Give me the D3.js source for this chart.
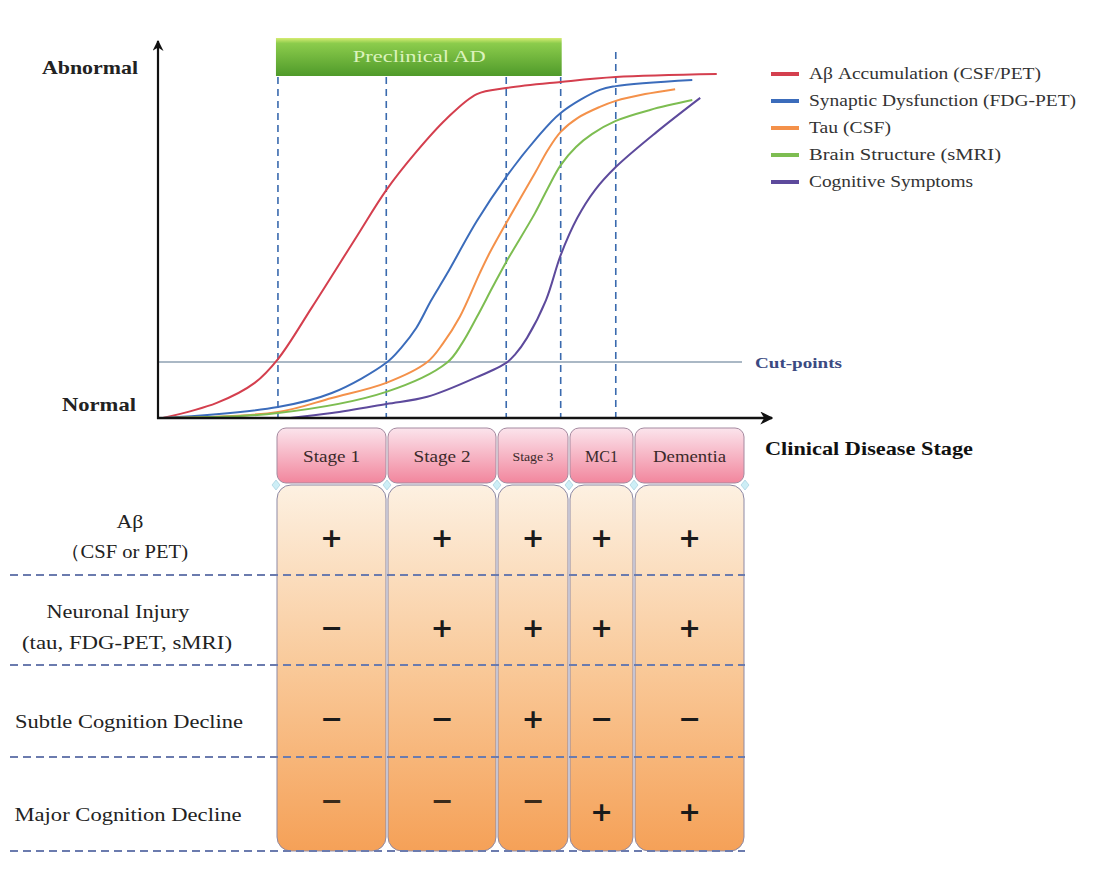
<!DOCTYPE html>
<html><head><meta charset="utf-8">
<script src="https://cdn.jsdelivr.net/npm/d3@7"></script>
<style>body{margin:0;background:#fff}svg{display:block}</style>
</head><body>
<svg id="c" width="1113" height="874"></svg>
<script>
// ---- data ----
const seriesNames = ["Aβ Accumulation (CSF/PET)","Synaptic Dysfunction (FDG-PET)","Tau (CSF)","Brain Structure (sMRI)","Cognitive Symptoms"];
const seriesColors = ["#d43f4e","#3b6cbb","#f4914a","#7dbd51","#5d4a9c"];
const redX = [0.8,9.6,15.8,19.6,25.2,32.5,37.3,42.2,47.1,52.1,56.9,65.8,74.8,91.3];
const redY = [0,4.0,9.3,15.6,29.4,48.1,60.3,70.4,79.1,85.7,87.3,88.9,90.2,91.0];
const blueX = [0.8,19.6,28.4,37.3,39.7,42.2,44.6,47.1,52.1,56.9,61.6,65.8,72.2,74.8,87.3];
const blueY = [0,2.9,6.6,14.6,18.5,23.8,31.0,37.8,52.1,63.8,73.5,80.7,86.8,87.8,89.4];
const orangeX = [0.8,19.6,28.4,37.3,44.0,46.6,49.3,52.6,54.2,56.9,61.6,63.7,65.8,68.6,72.2,74.8,79.6,84.5];
const orangeY = [0,1.6,5.3,9.3,14.8,19.8,26.7,38.4,43.7,51.6,64.8,70.9,75.7,79.4,82.3,83.9,85.7,87.0];
const greenX = [0.8,19.6,37.3,47.2,49.7,52.1,54.7,56.9,61.6,63.7,65.8,68.3,70.9,74.8,80.4,87.3];
const greenY = [0,1.3,6.9,14.6,19.8,26.7,34.7,41.3,54.2,60.8,66.9,71.7,75.1,78.6,81.5,84.1];
const purpleX = [21.6,28.4,37.3,44.0,52.1,56.9,58.3,60.3,63.4,65.8,68.5,71.4,74.8,81.5,88.6];
const purpleY = [0,1.3,3.7,5.6,10.8,14.6,16.7,21.2,31.2,43.1,52.9,60.3,66.4,75.7,84.7];
const stageLines = [19.6,37.3,56.9,65.8,74.8];
const cutPoint = 14.8;
const preclinical = ["Preclinical AD", 19.6, 65.8];
const stages = ["Stage 1","Stage 2","Stage 3","MC1","Dementia"];
const rowLabels = [["Aβ","（CSF or PET)"],["Neuronal Injury","(tau, FDG-PET, sMRI)"],["Subtle Cognition Decline"],["Major Cognition Decline"]];
const signs = [["+","+","+","+","+"],["−","+","+","+","+"],["−","−","+","−","−"],["−","−","−","+","+"]];

// ---- drawing ----
const svg = d3.select("#c");
const x = d3.scaleLinear().domain([0,100]).range([158,770]);
const y = d3.scaleLinear().domain([0,100]).range([418,40]);
const serif = "'Liberation Serif','Times New Roman',serif";
function txt(t, px, py, o){
  const e = svg.append("text").attr("x",px).attr("y",py).attr("font-family",o.family||serif)
    .attr("font-size",o.size||16).attr("fill",o.fill||"#222").attr("text-anchor",o.anchor||"start").text(t);
  if(o.bold) e.attr("font-weight","bold");
  if(o.w) e.attr("textLength",o.w).attr("lengthAdjust","spacingAndGlyphs");
  return e;
}
const defs = svg.append("defs");
const mk = defs.append("marker").attr("id","arr").attr("viewBox","0 0 10 10").attr("refX",9).attr("refY",5)
  .attr("markerWidth",5).attr("markerHeight",5).attr("orient","auto");
mk.append("path").attr("d","M0,0 L10,5 L0,10 L3,5 Z").attr("fill","#111");
const gGreen = defs.append("linearGradient").attr("id","gg").attr("x1",0).attr("x2",0).attr("y1",0).attr("y2",1);
gGreen.append("stop").attr("offset",0).attr("stop-color","#d6ec72");
gGreen.append("stop").attr("offset",0.14).attr("stop-color","#8ccc4c");
gGreen.append("stop").attr("offset",1).attr("stop-color","#4f9a2a");
const gPink = defs.append("linearGradient").attr("id","gp").attr("x1",0).attr("x2",0).attr("y1",0).attr("y2",1);
gPink.append("stop").attr("offset",0).attr("stop-color","#fbe4ec");
gPink.append("stop").attr("offset",1).attr("stop-color","#f2869d");
const gOr = defs.append("linearGradient").attr("id","go").attr("gradientUnits","userSpaceOnUse")
  .attr("x1",0).attr("x2",0).attr("y1",484).attr("y2",850);
gOr.append("stop").attr("offset",0).attr("stop-color","#fdf1e2");
gOr.append("stop").attr("offset",0.5).attr("stop-color","#f9c999");
gOr.append("stop").attr("offset",1).attr("stop-color","#f5a158");

// preclinical bar
svg.append("rect").attr("x",x(preclinical[1])-2).attr("y",38).attr("width",x(preclinical[2])-x(preclinical[1])+3).attr("height",38)
  .attr("fill","url(#gg)");
txt(preclinical[0], (x(preclinical[1])+x(preclinical[2]))/2, 62, {anchor:"middle", size:17, fill:"#dcf3bd", w:133});

// cut-point line
svg.append("line").attr("x1",x(0)).attr("x2",742).attr("y1",y(cutPoint)).attr("y2",y(cutPoint))
  .attr("stroke","#aab8c5").attr("stroke-width",2);
txt("Cut-points", 755, y(cutPoint)+6, {bold:true, size:15, fill:"#3b4a82", w:87});

// stage dashed lines
svg.selectAll(".sl").data(stageLines).enter().append("line")
  .attr("x1",d=>x(d)).attr("x2",d=>x(d)).attr("y1",(d,i)=>i===4?52:77).attr("y2",y(0))
  .attr("stroke","#3a6aae").attr("stroke-width",1.6).attr("stroke-dasharray","7,5");

// curves
const seriesData = [[redX,redY],[blueX,blueY],[orangeX,orangeY],[greenX,greenY],[purpleX,purpleY]];
const line = d3.line().x(d=>x(d[0])).y(d=>y(d[1])).curve(d3.curveCatmullRom.alpha(0.5));
seriesData.forEach((s,i)=>{
  const pts = s[0].map((v,j)=>[v,s[1][j]]);
  svg.append("path").attr("d",line(pts)).attr("fill","none").attr("stroke",seriesColors[i]).attr("stroke-width",2);
});

// axes
svg.append("line").attr("x1",x(0)).attr("y1",y(0)+1).attr("x2",x(0)).attr("y2",41).attr("stroke","#111").attr("stroke-width",2.2).attr("marker-end","url(#arr)");
svg.append("line").attr("x1",x(0)-1).attr("y1",y(0)).attr("x2",772).attr("y2",y(0)).attr("stroke","#111").attr("stroke-width",2.6).attr("marker-end","url(#arr)");
txt("Abnormal", 138, 74, {anchor:"end", bold:true, size:19, w:96});
txt("Normal", 136, 411, {anchor:"end", bold:true, size:19, w:74});
txt("Clinical Disease Stage", 765, 455, {bold:true, size:19, fill:"#111", w:208});

// legend
const legendW = [232,267,82,192,164];
seriesNames.forEach((n,i)=>{
  const ly = 74 + i*27;
  svg.append("line").attr("x1",771).attr("x2",799).attr("y1",ly).attr("y2",ly).attr("stroke",seriesColors[i]).attr("stroke-width",4);
  txt(n, 809, ly+5, {size:16, fill:"#333", w:legendW[i]});
});

// table
const colEdges = [276,387,497,569,634,745];
const hdrW = [57,57,41,33,73];
const hdrTop = 428, hdrBot = 483, bodyTop = 485, bodyBot = 851;
const rowEdges = [bodyTop,575,665,757,bodyBot];
stages.forEach((s,i)=>{
  const x0 = colEdges[i]+1, x1 = colEdges[i+1]-1;
  svg.append("rect").attr("x",x0).attr("y",bodyTop).attr("width",x1-x0).attr("height",bodyBot-bodyTop).attr("rx",14)
    .attr("fill","url(#go)").attr("stroke","#8d89a5").attr("stroke-width",1);
  svg.append("rect").attr("x",x0).attr("y",hdrTop).attr("width",x1-x0).attr("height",hdrBot-hdrTop).attr("rx",9)
    .attr("fill","url(#gp)").attr("stroke","#a58aa0").attr("stroke-width",1);
  txt(s, (x0+x1)/2, i===2?461:462, {anchor:"middle", size:i===2?12:17, fill:"#3a2a2a", w:hdrW[i]});
});
// junction diamonds
colEdges.forEach(cx=>{
  svg.append("path").attr("d",`M${cx},${bodyTop-5} L${cx+4},${bodyTop} L${cx},${bodyTop+5} L${cx-4},${bodyTop} Z`).attr("fill","#cdeef6").attr("stroke","#9ac8d8").attr("stroke-width",0.6);
});
// row dashed lines
rowEdges.slice(1).forEach(ry=>{
  svg.append("line").attr("x1",10).attr("x2",745).attr("y1",ry).attr("y2",ry).attr("stroke","#6b7bae").attr("stroke-width",2).attr("stroke-dasharray","8,5");
});
// row labels and signs
const labelPos = [[[130,-2,27],[124,28,128]],[[118,-2,143],[127,29,210]],[[129,17,228]],[[128,17,227]]];
rowLabels.forEach((lab,r)=>{
  const cy = (rowEdges[r]+rowEdges[r+1])/2;
  lab.forEach((t,k)=>{
    const p = labelPos[r][k];
    txt(t, p[0], cy+p[1], {anchor:"middle", size:19, fill:"#222", w:p[2]});
  });
  signs[r].forEach((sg,c)=>{
    const cx = (colEdges[c]+colEdges[c+1])/2;
    const plus = sg==="+";
    const by = cy + 17 + (r===3 && !plus ? -11 : 0);
    txt(sg, cx, by, {anchor:"middle", family:"'DejaVu Sans',sans-serif", size:27, bold:true, fill:(r===3&&!plus)?"#3a2a1a":"#1a1a1a"});
  });
});
</script>
</body></html>
